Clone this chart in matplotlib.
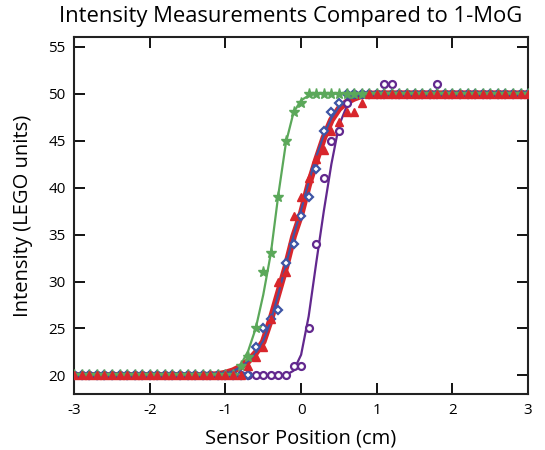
import matplotlib
matplotlib.use("Agg")
import matplotlib.pyplot as plt
import numpy as np

# measured points, every 0.1 cm from -3 to 3
x_pts = np.round(np.arange(-30, 31) / 10, 1)

def fill(changes, x_lo):
    # flat 20 below x_lo, flat 50 above, read values where they differ
    out = []
    for x in x_pts:
        if x in changes:
            out.append(changes[x])
        elif x < x_lo:
            out.append(20)
        else:
            out.append(50)
    return out

green_read = {-0.8: 21, -0.7: 22, -0.6: 25, -0.5: 31, -0.4: 33, -0.3: 39,
              -0.2: 45, -0.1: 48, 0.0: 49}
blue_read = {-0.6: 23, -0.5: 25, -0.4: 26, -0.3: 27, -0.2: 32, -0.1: 34,
             0.0: 37, 0.1: 39, 0.2: 42, 0.3: 46, 0.4: 48, 0.5: 49}
red_read = {-0.7: 21, -0.6: 22, -0.5: 23, -0.4: 26, -0.3: 30, -0.2: 31,
            -0.1: 37, 0.0: 39, 0.1: 41, 0.2: 43, 0.3: 44, 0.4: 46,
            0.5: 47, 0.6: 48, 0.7: 48, 0.8: 49}
purple_read = {-0.1: 21, 0.0: 21, 0.1: 25, 0.2: 34, 0.3: 41, 0.4: 45,
               0.5: 46, 0.6: 49, 1.1: 51, 1.2: 51, 1.8: 51}

green_pts = fill(green_read, -0.8)
blue_pts = fill(blue_read, -0.6)
red_pts = fill(red_read, -0.7)
purple_pts = fill(purple_read, -0.1)

# fitted curves
green_fit_x = [-3, -1.2, -1.1, -1.0, -0.9, -0.8, -0.7, -0.6, -0.5, -0.4, -0.3,
               -0.2, -0.1, 0.0, 0.1, 0.2, 3]
green_fit_y = [20, 20.05, 20.1, 20.2, 20.5, 21.1, 22.6, 25.0, 28.6, 33.0, 39.3,
               44.8, 48.0, 49.3, 49.8, 50.0, 50]

red_fit_x = [-3, -1.3, -1.2, -1.1, -1.0, -0.9, -0.8, -0.7, -0.6, -0.5, -0.4, -0.3,
             -0.2, -0.1, 0.0, 0.1, 0.2, 0.3, 0.4, 0.5, 0.6, 0.7, 0.8, 0.9, 1.0, 3]
red_fit_y = [20, 20.0, 20.05, 20.1, 20.25, 20.5, 20.9, 21.5, 22.4, 23.6, 26.0, 28.8,
             31.6, 34.8, 37.2, 40.3, 42.9, 45.3, 47.2, 48.4, 49.1, 49.5, 49.8, 49.95, 50, 50]

blue_fit_x = [-3, -1.2, -1.1, -1.0, -0.9, -0.8, -0.7, -0.6, -0.5, -0.4, -0.3,
              -0.2, -0.1, 0.0, 0.1, 0.2, 0.3, 0.4, 0.5, 0.6, 0.7, 0.8, 0.9, 3]
blue_fit_y = [20, 20.02, 20.08, 20.2, 20.45, 20.9, 21.5, 22.4, 23.7, 25.8, 28.7,
              31.8, 34.9, 37.6, 40.6, 43.3, 45.6, 47.4, 48.6, 49.3, 49.7, 49.9, 50, 50]

purple_fit_x = [-3, -0.3, -0.2, -0.1, 0.0, 0.1, 0.2, 0.3, 0.4, 0.5, 0.6, 0.7,
                0.8, 0.9, 3]
purple_fit_y = [20, 20, 20.05, 20.5, 22.2, 26.3, 32.0, 37.5, 42.5, 46.6, 48.6,
                49.6, 49.9, 50, 50]

c_green = '#5BA85A'
c_blue = '#3E55A6'
c_red = '#D8262C'
c_purple = '#62288E'

plt.rcParams['font.family'] = ['Open Sans', 'DejaVu Sans']
plt.rcParams['axes.unicode_minus'] = False

fig = plt.figure(figsize=(5.45, 4.5), dpi=100)
ax = fig.add_axes([0.136, 0.124, 0.833, 0.793])

# fit lines underneath
ax.plot(purple_fit_x, purple_fit_y, color=c_purple, linewidth=1.6, zorder=2)
ax.plot(green_fit_x, green_fit_y, color=c_green, linewidth=1.6, zorder=2)
ax.plot(red_fit_x, red_fit_y, color=c_red, linewidth=4.8, zorder=2)
ax.plot(blue_fit_x, blue_fit_y, color=c_blue, linewidth=1.5, zorder=2)

# measurements on top
ax.plot(x_pts, purple_pts, linestyle='none', marker='o', markersize=5,
        markerfacecolor='white', markeredgecolor=c_purple, markeredgewidth=1.6, zorder=3)
ax.plot(x_pts, blue_pts, linestyle='none', marker='D', markersize=4.5,
        markerfacecolor='white', markeredgecolor=c_blue, markeredgewidth=1.6, zorder=3)
ax.plot(x_pts, green_pts, linestyle='none', marker='*', markersize=8,
        color=c_green, zorder=3)
ax.plot(x_pts, red_pts, linestyle='none', marker='^', markersize=6,
        color=c_red, zorder=3)

ax.set_xlim(-3, 3)
ax.set_ylim(18, 56)
ax.set_xticks([-3, -2, -1, 0, 1, 2, 3])
ax.set_yticks([20, 25, 30, 35, 40, 45, 50, 55])
ax.tick_params(direction='in', length=8, width=1.3, top=True, right=True,
               labelsize=11, pad=6)
for s in ax.spines.values():
    s.set_linewidth(1.5)
    s.set_color('#222222')

ax.set_title('Intensity Measurements Compared to 1-MoG', fontsize=15.8, pad=11, x=0.478)
ax.set_xlabel('Sensor Position (cm)', fontsize=14.5, labelpad=8)
ax.set_ylabel('Intensity (LEGO units)', fontsize=14.5, labelpad=11)

fig.savefig('out.png', dpi=100)
